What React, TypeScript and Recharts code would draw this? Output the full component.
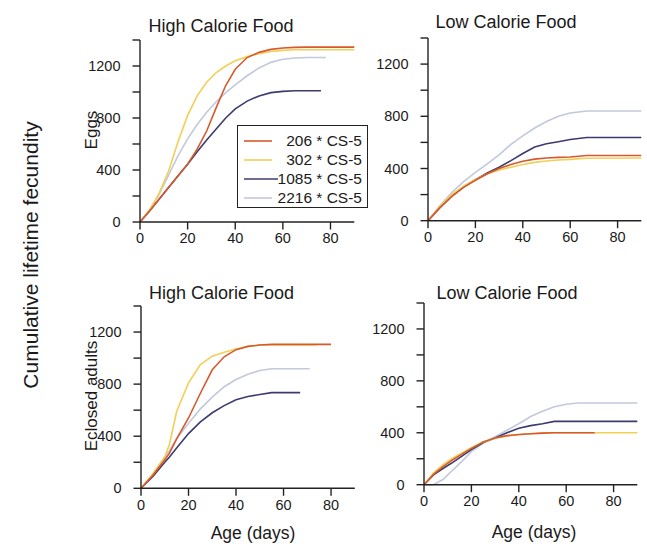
import React from "react";
import { LineChart, Line, XAxis, YAxis } from "recharts";

// series (legend order)
const seriesKeys = ["s206", "s302", "s1085", "s2216"];
const seriesNames = ["206 * CS-5", "302 * CS-5", "1085 * CS-5", "2216 * CS-5"];
const seriesColors = ["#d65a2e", "#f2cf55", "#3c3b6e", "#c3c9dc"];

const xTicks = [0, 20, 40, 60, 80];
const yTicks = [0, 200, 400, 600, 800, 1000, 1200, 1400];

// Eggs, high calorie food
const hiEggAge = [0, 4, 8, 12, 16, 20, 24, 28, 32, 36, 40, 45, 50, 55, 60, 65, 70, 76, 78, 90];
const hiEgg206 = [0, 85, 175, 265, 355, 445, 560, 700, 880, 1050, 1175, 1265, 1305, 1328, 1338, 1343, 1345, 1345, 1345, 1345];
const hiEgg302 = [0, 90, 220, 390, 620, 820, 970, 1075, 1150, 1200, 1240, 1272, 1295, 1312, 1320, 1325, 1325, 1325, 1325, 1325];
const hiEgg1085 = [0, 85, 175, 265, 355, 445, 540, 630, 715, 800, 870, 930, 970, 995, 1005, 1010, 1010, 1010, null, null];
const hiEgg2216 = [0, 95, 210, 360, 510, 640, 750, 845, 925, 995, 1055, 1125, 1185, 1228, 1252, 1262, 1265, 1265, 1265, null];

// Eggs, low calorie food
const loEggAge = [0, 5, 10, 15, 20, 25, 30, 35, 40, 45, 50, 55, 60, 67, 90];
const loEgg206 = [0, 100, 185, 255, 310, 360, 400, 430, 455, 472, 480, 485, 488, 500, 500];
const loEgg302 = [0, 110, 200, 265, 315, 358, 388, 410, 430, 447, 457, 465, 470, 478, 480];
const loEgg1085 = [0, 100, 190, 258, 315, 365, 410, 460, 515, 565, 590, 605, 622, 638, 638];
const loEgg2216 = [0, 115, 215, 300, 370, 435, 505, 585, 650, 710, 760, 800, 825, 840, 840];

// Eclosed adults, high calorie food
const hiAdultAge = [0, 5, 10, 12, 15, 20, 25, 30, 35, 40, 45, 50, 55, 67, 71, 74, 80];
const hiAdult206 = [0, 100, 220, 270, 380, 540, 730, 910, 1010, 1065, 1090, 1100, 1105, 1105, 1105, 1105, 1105];
const hiAdult302 = [0, 110, 240, 340, 590, 810, 950, 1015, 1045, 1070, 1090, 1100, 1100, 1100, 1100, 1100, null];
const hiAdult1085 = [0, 90, 200, 240, 310, 420, 510, 580, 635, 680, 705, 720, 735, 735, null, null, null];
const hiAdult2216 = [0, 110, 240, 290, 380, 500, 610, 700, 780, 835, 875, 905, 918, 918, 918, null, null];

// Eclosed adults, low calorie food
const loAdultAge = [0, 4, 8, 12, 16, 20, 25, 30, 35, 40, 45, 50, 55, 60, 65, 72, 90];
const loAdult206 = [0, 80, 140, 190, 235, 280, 330, 360, 378, 387, 393, 397, 400, 400, 400, 400, null];
const loAdult302 = [0, 90, 155, 205, 245, 285, 330, 358, 375, 385, 392, 397, 400, 400, 400, 400, 400];
const loAdult1085 = [0, 75, 125, 170, 220, 270, 325, 360, 400, 435, 455, 470, 488, 488, 488, 488, 488];
const loAdult2216 = [0, 0, 40, 110, 180, 255, 320, 370, 420, 470, 525, 565, 600, 620, 630, 630, 630];

const FONT = "'Liberation Sans', Arial, Helvetica, sans-serif";

function makeRows(ages: number[], cols: (number | null)[][]) {
  return ages.map((age, i) => {
    const row: any = { age };
    seriesKeys.forEach((k, j) => {
      row[k] = cols[j][i];
    });
    return row;
  });
}

const panels = [
  { title: "High Calorie Food", titleX: 221, titleY: 31, box: { x: 139.7, y: 39.7, w: 214.3, h: 182 }, data: makeRows(hiEggAge, [hiEgg206, hiEgg302, hiEgg1085, hiEgg2216]) },
  { title: "Low Calorie Food", titleX: 506, titleY: 27.5, box: { x: 428.3, y: 38, w: 213.3, h: 182.7 }, data: makeRows(loEggAge, [loEgg206, loEgg302, loEgg1085, loEgg2216]) },
  { title: "High Calorie Food", titleX: 221.5, titleY: 298.5, box: { x: 140.7, y: 306, w: 213.8, h: 182.3 }, data: makeRows(hiAdultAge, [hiAdult206, hiAdult302, hiAdult1085, hiAdult2216]) },
  { title: "Low Calorie Food", titleX: 507, titleY: 298.5, box: { x: 424.3, y: 303.3, w: 213.3, h: 181.7 }, data: makeRows(loAdultAge, [loAdult206, loAdult302, loAdult1085, loAdult2216]) },
];

const tickStyle = { fill: "#1a1a1a", fontSize: 14.5, fontFamily: FONT };
const axisStroke = { stroke: "#222", strokeWidth: 1.4 };

function Panel({ box, data }: { box: { x: number; y: number; w: number; h: number }; data: any[] }) {
  const left = 60;
  const top = 20;
  return (
    <div style={{ position: "absolute", left: box.x - left, top: box.y - top }}>
      <LineChart
        width={box.w + left + 10}
        height={box.h + top + 30}
        data={data}
        margin={{ top, right: 10, bottom: 0, left: 0 }}
      >
        <XAxis
          dataKey="age"
          type="number"
          domain={[0, 90]}
          ticks={xTicks}
          interval={0}
          height={30}
          tick={tickStyle}
          tickSize={7.5}
          tickMargin={3.5}
          axisLine={axisStroke}
          tickLine={axisStroke}
        />
        <YAxis
          type="number"
          domain={[0, 1400]}
          ticks={yTicks}
          interval={0}
          width={left}
          tick={tickStyle}
          tickSize={7.5}
          tickMargin={12}
          tickFormatter={(v: number) => (v % 400 === 0 ? String(v) : "")}
          axisLine={axisStroke}
          tickLine={axisStroke}
        />
        {seriesKeys
          .map((k, i) => (
            <Line
              key={k}
              dataKey={k}
              type="linear"
              stroke={seriesColors[i]}
              strokeWidth={1.6}
              dot={false}
              connectNulls={false}
              isAnimationActive={false}
            />
          ))
          .reverse()}
      </LineChart>
    </div>
  );
}

const txt: React.CSSProperties = {
  position: "absolute",
  fontFamily: FONT,
  color: "#1a1a1a",
  whiteSpace: "nowrap",
  lineHeight: 1,
};

function VText({ cx, cy, size, children }: { cx: number; cy: number; size: number; children: React.ReactNode }) {
  return (
    <div
      style={{
        ...txt,
        fontSize: size,
        left: cx,
        top: cy,
        transform: "translate(-50%, -50%) rotate(-90deg)",
      }}
    >
      {children}
    </div>
  );
}

function Legend() {
  return (
    <div
      style={{
        position: "absolute",
        left: 237,
        top: 125,
        width: 129,
        height: 81,
        border: "1.4px solid #222",
        background: "#fff",
      }}
    >
      {seriesNames.map((name, i) => (
        <div key={name} style={{ position: "absolute", left: 0, top: 5 + i * 19, width: 129, height: 19 }}>
          <svg width={36} height={19} style={{ position: "absolute", left: 6, top: 0 }}>
            <line x1={0} x2={i === 2 ? 34 : 28} y1={10} y2={10} stroke={seriesColors[i]} strokeWidth={1.6} />
          </svg>
          <div style={{ ...txt, fontSize: 15.5, right: 5, top: 2 }}>{name}</div>
        </div>
      ))}
    </div>
  );
}

export default function App() {
  return (
    <div style={{ position: "absolute", left: 0, top: 0, width: 647, height: 546, background: "#fff", overflow: "hidden" }}>
      {panels.map((p, i) => (
        <React.Fragment key={i}>
          <Panel box={p.box} data={p.data} />
          <div
            style={{
              ...txt,
              fontSize: 18,
              left: p.titleX,
              top: p.titleY - 14.5,
              transform: "translateX(-50%)",
            }}
          >
            {p.title}
          </div>
        </React.Fragment>
      ))}
      <VText cx={30} cy={255} size={21}>Cumulative lifetime fecundity</VText>
      <VText cx={91} cy={130} size={17}>Eggs</VText>
      <VText cx={91} cy={396} size={17}>Eclosed adults</VText>
      <div style={{ ...txt, fontSize: 17.5, left: 253, top: 525, transform: "translateX(-50%)" }}>Age (days)</div>
      <div style={{ ...txt, fontSize: 17.5, left: 534, top: 524, transform: "translateX(-50%)" }}>Age (days)</div>
      <Legend />
    </div>
  );
}
